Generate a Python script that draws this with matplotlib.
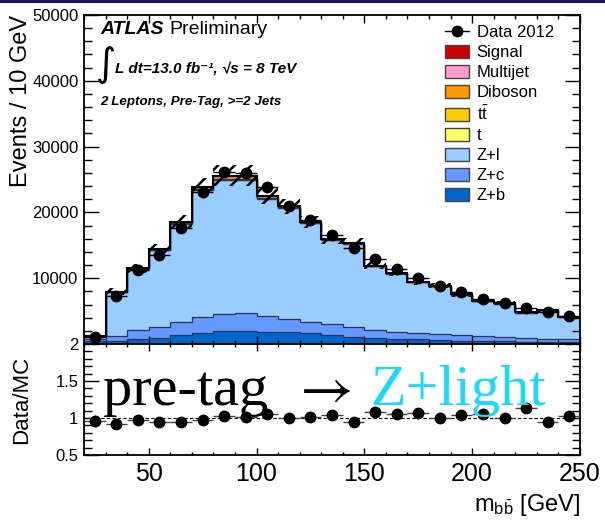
import numpy as np
import matplotlib
matplotlib.use("Agg")
import matplotlib.pyplot as plt
from matplotlib.patches import Patch, Rectangle
from matplotlib.lines import Line2D
from matplotlib.ticker import MultipleLocator, FixedLocator

plt.rcParams['font.family'] = ['Liberation Sans', 'DejaVu Sans']
plt.rcParams['mathtext.fontset'] = 'custom'
plt.rcParams['mathtext.rm'] = 'Liberation Sans'
plt.rcParams['mathtext.it'] = 'Liberation Sans:italic'
plt.rcParams['mathtext.bf'] = 'Liberation Sans:bold'
plt.rcParams['hatch.linewidth'] = 1.8

# m_bb bins, 20-250 GeV in 10 GeV steps
edges = np.arange(20, 251, 10)
centers = edges[:-1] + 5

data = [1100, 7300, 11250, 13530, 17640, 23100, 26150, 26000, 23870, 21000, 18850, 16570,
        14600, 12900, 11400, 10030, 8820, 7900, 6840, 6230, 5470, 4860, 4250]

z_b = [450, 450, 760, 860, 1320, 1670, 1930, 1970, 1870, 1850, 1620, 1370,
       1110, 960, 800, 710, 610, 500, 450, 410, 350, 300, 300]
z_c = [250, 810, 1370, 1720, 2080, 2480, 2630, 2740, 2440, 2000, 1780, 1630,
       1470, 1170, 1070, 1010, 960, 870, 770, 600, 510, 500, 410]
z_l = [440, 6640, 9280, 11680, 14880, 19250, 20390, 20260, 17770, 16800, 14920, 12800,
       12650, 9660, 8840, 7650, 7210, 6120, 5250, 5140, 3900, 4310, 3380]
single_t = [2, 8, 15, 20, 25, 25, 25, 25, 22, 20, 18, 16, 14, 12, 10, 9, 8, 7, 6, 5, 5, 4, 4]
ttbar = [5, 30, 60, 80, 100, 120, 130, 130, 120, 110, 100, 90, 80, 70, 60, 55, 50, 45, 40, 35, 30, 28, 25]
diboson = [2, 10, 20, 40, 150, 300, 500, 480, 280, 120, 60, 40, 30, 25, 20, 18, 15, 12, 10, 9, 8, 7, 6]
multijet = [0] * 23
signal = [0] * 23

# relative systematic uncertainty on the MC stack
mc_unc = [0.08, 0.065, 0.06, 0.06, 0.06, 0.06, 0.06, 0.06, 0.055, 0.055, 0.05, 0.05,
          0.05, 0.045, 0.045, 0.045, 0.045, 0.045, 0.045, 0.045, 0.045, 0.045, 0.045]
ratio_err = [0.08, 0.04, 0.03, 0.03, 0.03, 0.025, 0.035, 0.025, 0.03, 0.025, 0.025, 0.025,
             0.025, 0.03, 0.03, 0.03, 0.03, 0.03, 0.03, 0.03, 0.03, 0.03, 0.03]

stack = [("Z+b", z_b, '#0066CC'), ("Z+c", z_c, '#6699FF'), ("Z+l", z_l, '#99CCFF'),
         ("t", single_t, '#FFFF66'), (r"$\mathrm{t\bar{t}}$", ttbar, '#FFCC00'),
         ("Diboson", diboson, '#FF9900'), ("Multijet", multijet, '#FF99CC'),
         ("Signal", signal, '#CC0000')]

fig = plt.figure(figsize=(6.05, 5.21), dpi=100)
W, H = 605.0, 521.0
ax = fig.add_axes([84 / W, 1 - 344 / H, 496 / W, 329 / H])
rax = fig.add_axes([84 / W, 1 - 455 / H, 496 / W, 111 / H], sharex=ax)

fig.add_artist(Rectangle((0, 1 - 3 / H), 1, 3 / H, transform=fig.transFigure,
                         color='#16166e', lw=0))

bottom = np.zeros(len(data))
for name, vals, col in stack:
    top = bottom + np.array(vals)
    if np.any(np.array(vals) > 0):
        ax.stairs(top, edges, baseline=bottom, fill=True, color=col, zorder=1)
        ax.stairs(top, edges, baseline=None, color='#2b3550', lw=0.9, zorder=2)
    bottom = top
total = bottom

ax.stairs(total * (1 + np.array(mc_unc)), edges, baseline=total * (1 - np.array(mc_unc)),
          fill=True, facecolor='none', edgecolor='k', hatch='//', lw=0, zorder=3)
ax.stairs(total, edges, baseline=None, color='k', lw=1.5, zorder=4)

ax.errorbar(centers, data, xerr=5, yerr=np.sqrt(data), fmt='o', color='k', ms=7.5,
            elinewidth=1, capsize=0, zorder=5)

ax.set_xlim(20, 250)
ax.set_ylim(0, 50000)
ax.yaxis.set_major_locator(FixedLocator([10000, 20000, 30000, 40000, 50000]))
ax.yaxis.set_minor_locator(MultipleLocator(2000))
ax.xaxis.set_major_locator(MultipleLocator(50))
ax.xaxis.set_minor_locator(MultipleLocator(10))
ax.tick_params(axis='both', which='both', direction='in', top=True, right=True)
ax.tick_params(axis='y', which='major', length=11, width=1, labelsize=12, pad=4)
ax.tick_params(axis='y', which='minor', length=6, width=1)
ax.tick_params(axis='x', which='major', length=6, width=1, labelbottom=False)
ax.tick_params(axis='x', which='minor', length=3, width=1)
for sp in ax.spines.values():
    sp.set_linewidth(1.3)
ax.set_ylabel('Events / 10 GeV', fontsize=17, loc='top')
ax.yaxis.set_label_coords(-0.105, 1.0)

# ATLAS labels
fig.text(100 / W, 1 - 34 / H, 'ATLAS', fontsize=14, fontweight='bold', fontstyle='italic')
fig.text(169 / W, 1 - 34 / H, 'Preliminary', fontsize=14)
fig.text(96 / W, 1 - 76 / H, '\u222b', fontsize=28, family=['DejaVu Sans'])
fig.text(115 / W, 1 - 72 / H, 'L dt=13.0 fb\u207b\u00b9, \u221as = 8 TeV', fontsize=11,
         fontweight='bold', fontstyle='italic')
fig.text(100 / W, 1 - 105 / H, '2 Leptons, Pre-Tag, >=2 Jets', fontsize=9.6,
         fontweight='bold', fontstyle='italic')

handles = [Line2D([], [], marker='o', color='k', ms=7.5, lw=1)]
labels = ['Data 2012']
for name, vals, col in stack[::-1]:
    handles.append(Patch(facecolor=col, edgecolor='#444444', lw=1))
    labels.append(name)
ax.legend(handles, labels, loc='upper left', bbox_to_anchor=(445 / W, 1 - 25 / H),
          bbox_transform=fig.transFigure, frameon=False, fontsize=12,
          handlelength=1.45, handleheight=0.8, handletextpad=0.45,
          labelspacing=0.29, borderpad=0, borderaxespad=0)

# ratio panel
ratio = np.array(data) / total
rax.axhline(1, color='k', lw=0.8, ls=(0, (3, 2)), zorder=1)
rax.errorbar(centers, ratio, xerr=5, yerr=ratio_err, fmt='o', color='k', ms=7.5,
             elinewidth=1, ecolor='#444444', capsize=0, zorder=3)
rax.set_ylim(0.5, 2)
rax.yaxis.set_major_locator(FixedLocator([0.5, 1, 1.5, 2]))
rax.yaxis.set_minor_locator(MultipleLocator(0.1))
rax.yaxis.set_major_formatter(plt.FuncFormatter(lambda v, p: '%g' % v))
rax.tick_params(axis='both', which='both', direction='in', top=True, right=True)
rax.tick_params(axis='y', which='major', length=11, width=1, labelsize=12, pad=4)
rax.tick_params(axis='y', which='minor', length=6, width=1)
rax.tick_params(axis='x', which='major', length=5, width=1, labelsize=18, pad=5)
rax.tick_params(axis='x', which='minor', length=2.5, width=1)
for sp in rax.spines.values():
    sp.set_linewidth(1.3)
rax.set_ylabel('Data/MC', fontsize=16)
rax.yaxis.set_label_coords(-0.105, 0.5)
rax.set_xlabel(r'm$_{\mathrm{b\bar{b}}}$ [GeV]', fontsize=17, loc='right')
rax.xaxis.set_label_coords(1.0, -0.33)

fig.text(103 / W, 1 - 405 / H, 'pre-tag', fontsize=42, color='k',
         family=['Liberation Serif', 'DejaVu Serif'])
fig.text(291 / W, 1 - 405 / H, r'$\rightarrow$', fontsize=42, color='k',
         math_fontfamily='stix')
fig.text(370 / W, 1 - 405 / H, 'Z+light', fontsize=42, color='#1AD9F9',
         family=['Liberation Serif', 'DejaVu Serif'])

fig.savefig('out.png', dpi=100)
